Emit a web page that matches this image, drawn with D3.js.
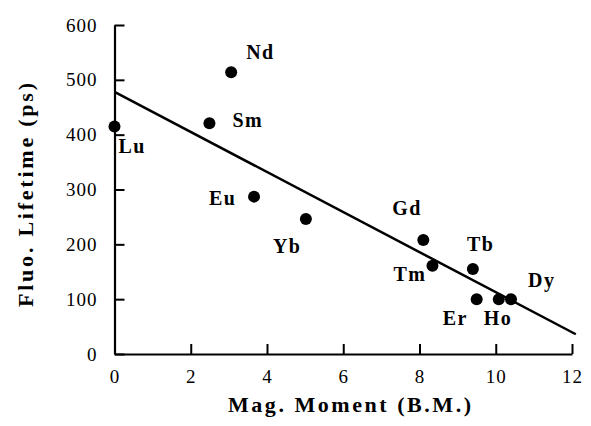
<!DOCTYPE html>
<html><head><meta charset="utf-8">
<script src="https://cdn.jsdelivr.net/npm/d3@7"></script>
<style>body{margin:0;background:#fff}svg{display:block}</style>
</head><body>
<script>
const elements = ["Lu","Nd","Sm","Eu","Yb","Gd","Tm","Tb","Er","Ho","Dy"];
const magMoment = [0.0, 3.06, 2.49, 3.66, 5.02, 8.10, 8.34, 9.40, 9.50, 10.08, 10.40];
const lifetime = [415, 514, 421, 287, 246, 208, 161, 155, 100, 100, 100];
const fitX = [0, 12.1];
const fitY = [478, 36];
const xTicks = [0, 2, 4, 6, 8, 10, 12];
const yTicks = [0, 100, 200, 300, 400, 500, 600];
const xTitle = "Mag.  Moment  (B.M.)";
const yTitle = "Fluo.  Lifetime  (ps)";

// label placement (pixel offsets from the point)
const labelOffsets = {Lu:[4,27],Nd:[15,-13],Sm:[23,4],Eu:[-45,8],Yb:[-33,34],Gd:[-31,-25],
  Tm:[-39,15],Tb:[-6,-18],Er:[-34,26],Ho:[-15,26],Dy:[17,-12]};

const W = 591, H = 426;
const svg = d3.select("body").append("svg").attr("width", W).attr("height", H);
const font = "'Liberation Serif','Times New Roman',serif";
const x = d3.scaleLinear().domain([0, 12]).range([114.5, 572]);
const y = d3.scaleLinear().domain([0, 600]).range([354, 25]);

const xa = svg.append("g").attr("transform", "translate(0,354)")
  .call(d3.axisBottom(x).tickValues(xTicks).tickSizeInner(-10).tickSizeOuter(0).tickPadding(16).tickFormat(d3.format("d")));
const ya = svg.append("g").attr("transform", "translate(114.5,0)")
  .call(d3.axisLeft(y).tickValues(yTicks).tickSizeInner(-10).tickSizeOuter(0).tickPadding(17).tickFormat(d3.format("d")));
[xa, ya].forEach(g => {
  g.select(".domain").attr("stroke", "#000").attr("stroke-width", 2.2);
  g.selectAll(".tick line").attr("stroke", "#000").attr("stroke-width", 2);
  g.selectAll(".tick text").attr("fill", "#000").style("font-family", font).style("font-size", "19px").style("letter-spacing", "1px");
});

svg.append("line")
  .attr("x1", x(fitX[0])).attr("y1", y(fitY[0]))
  .attr("x2", x(fitX[1])).attr("y2", y(fitY[1]))
  .attr("stroke", "#000").attr("stroke-width", 2.5);

const pts = elements.map((e, i) => ({e, mx: magMoment[i], lt: lifetime[i]}));
svg.selectAll("circle.pt").data(pts).enter().append("circle")
  .attr("class", "pt").attr("cx", d => x(d.mx)).attr("cy", d => y(d.lt)).attr("r", 6).attr("fill", "#000");
svg.selectAll("text.lab").data(pts).enter().append("text")
  .attr("class", "lab")
  .attr("x", d => x(d.mx) + labelOffsets[d.e][0])
  .attr("y", d => y(d.lt) + labelOffsets[d.e][1])
  .style("font-family", font).style("font-size", "20px").style("font-weight", "bold").style("letter-spacing", "1.5px")
  .text(d => d.e);

svg.append("text").attr("x", 349.5).attr("y", 411.5).attr("text-anchor", "middle")
  .attr("textLength", 243).attr("lengthAdjust", "spacing")
  .style("font-family", font).style("font-size", "22px").style("font-weight", "bold").text(xTitle);
svg.append("text").attr("transform", "translate(33,195) rotate(-90)").attr("text-anchor", "middle")
  .attr("textLength", 224).attr("lengthAdjust", "spacing")
  .style("font-family", font).style("font-size", "22px").style("font-weight", "bold").text(yTitle);
</script>
</body></html>
